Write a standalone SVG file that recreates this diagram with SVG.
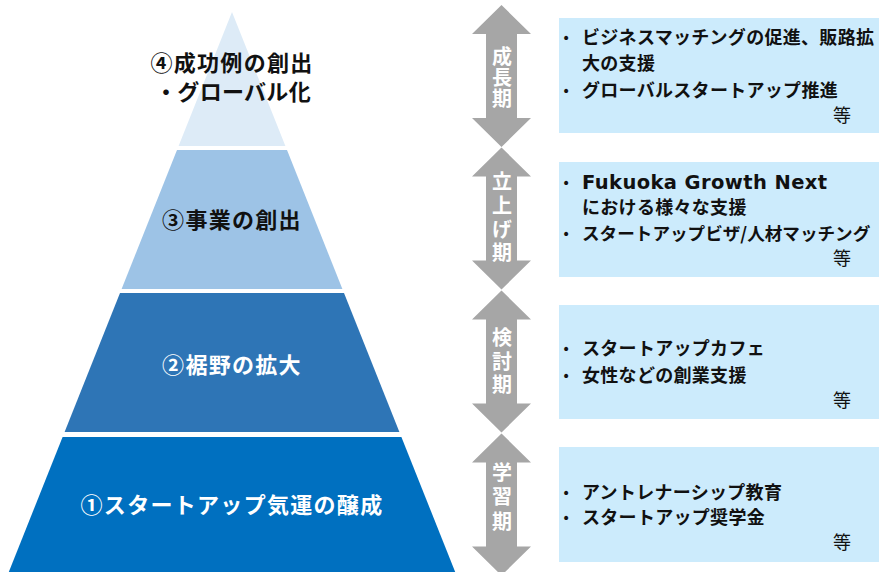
<svg xmlns="http://www.w3.org/2000/svg" xmlns:xlink="http://www.w3.org/1999/xlink" width="879" height="572" viewBox="0 0 879 572">
<style>
.pt{font-family:"Noto Sans CJK JP","Noto Sans CJK SC",sans-serif;font-weight:bold;font-size:22px;letter-spacing:1.3px;text-anchor:middle}
.dk{fill:#111111}
.wt{fill:#ffffff}
.al{font-family:"Noto Sans CJK JP","Noto Sans CJK SC",sans-serif;font-weight:bold;font-size:20px;fill:#ffffff;text-anchor:middle;writing-mode:vertical-rl}
.bx{fill:#CCEBFC}
.bt{font-family:"Noto Sans CJK JP","Noto Sans CJK SC",sans-serif;font-weight:bold;font-size:18px;letter-spacing:0.3px;fill:#111111}
.lt{font-family:"DejaVu Sans","Noto Sans",sans-serif;font-weight:bold;font-size:19.5px;letter-spacing:0.4px;fill:#111111}
.bl{font-family:"DejaVu Sans",sans-serif;font-size:14px;fill:#111111}
.et{font-family:"Noto Sans CJK JP","Noto Sans CJK SC",sans-serif;font-weight:normal;font-size:18px;fill:#111111}
.arw{fill:#A6A6A6}
</style>
<defs>
<path id="dbl" d="M0,0 L29.5,29 L15.5,29 L15.5,113 L29.5,113 L0,142 L-29.5,113 L-15.5,113 L-15.5,29 L-29.5,29 Z"/>
</defs>
<rect width="879" height="572" fill="#ffffff"/>

<g id="layer4">
<polygon points="232,12 285.4,146 178.6,146" fill="#DDEBF7"/>
<text class="pt dk" x="232" y="71">④成功例の創出</text>
<text class="pt dk" x="233" y="100" style="letter-spacing:0.3px">・グローバル化</text>
</g>
<g id="layer3">
<polygon points="177,150 287,150 342.4,289 121.6,289" fill="#9DC3E6"/>
<text class="pt dk" x="232" y="228">③事業の創出</text>
</g>
<g id="layer2">
<polygon points="120,293 344,293 399.4,432 64.6,432" fill="#2E75B6"/>
<text class="pt wt" x="232" y="373">②裾野の拡大</text>
</g>
<g id="layer1">
<polygon points="62.6,437 401.4,437 455.2,572 8.8,572" fill="#0070C0"/>
<text class="pt wt" x="232" y="513">①スタートアップ気運の醸成</text>
</g>

<g id="arrow-growth">
<use xlink:href="#dbl" href="#dbl" class="arw" transform="translate(501.5,5)"/>
<text class="al" x="502" y="78" style="letter-spacing:1px">成長期</text>
</g>
<g id="arrow-startup">
<use xlink:href="#dbl" href="#dbl" class="arw" transform="translate(501.5,147.5)"/>
<text class="al" x="502" y="219" style="letter-spacing:3.7px">立上げ期</text>
</g>
<g id="arrow-consider">
<use xlink:href="#dbl" href="#dbl" class="arw" transform="translate(501.5,290.5)"/>
<text class="al" x="502" y="363" style="letter-spacing:3.5px">検討期</text>
</g>
<g id="arrow-learn">
<use xlink:href="#dbl" href="#dbl" class="arw" transform="translate(501.5,433.5)"/>
<text class="al" x="502" y="499" style="letter-spacing:4.5px">学習期</text>
</g>

<g id="box-growth">
<rect class="bx" x="559" y="18" width="320" height="115"/>
<text class="bl" x="562" y="43">•</text>
<text class="bt" x="582" y="44">ビジネスマッチングの促進、販路拡</text>
<text class="bt" x="582" y="70">大の支援</text>
<text class="bl" x="562" y="96">•</text>
<text class="bt" x="582" y="97">グローバルスタートアップ推進</text>
<text class="et" x="833" y="122">等</text>
</g>
<g id="box-startup">
<rect class="bx" x="559" y="162" width="320" height="115"/>
<text class="bl" x="562" y="188">•</text>
<text class="lt" x="582" y="189">Fukuoka Growth Next</text>
<text class="bt" x="582" y="214">における様々な支援</text>
<text class="bl" x="562" y="239">•</text>
<text class="bt" x="582" y="240" style="font-size:17.6px;letter-spacing:0">スタートアップビザ/人材マッチング</text>
<text class="et" x="833" y="265">等</text>
</g>
<g id="box-consider">
<rect class="bx" x="559" y="305" width="320" height="114"/>
<text class="bl" x="562" y="354">•</text>
<text class="bt" x="582" y="355">スタートアップカフェ</text>
<text class="bl" x="562" y="381">•</text>
<text class="bt" x="582" y="382">女性などの創業支援</text>
<text class="et" x="833" y="407">等</text>
</g>
<g id="box-learn">
<rect class="bx" x="559" y="447" width="320" height="115"/>
<text class="bl" x="562" y="498">•</text>
<text class="bt" x="582" y="499">アントレナーシップ教育</text>
<text class="bl" x="562" y="523">•</text>
<text class="bt" x="582" y="524">スタートアップ奨学金</text>
<text class="et" x="833" y="549">等</text>
</g>
<g id="connectors"/>
</svg>
